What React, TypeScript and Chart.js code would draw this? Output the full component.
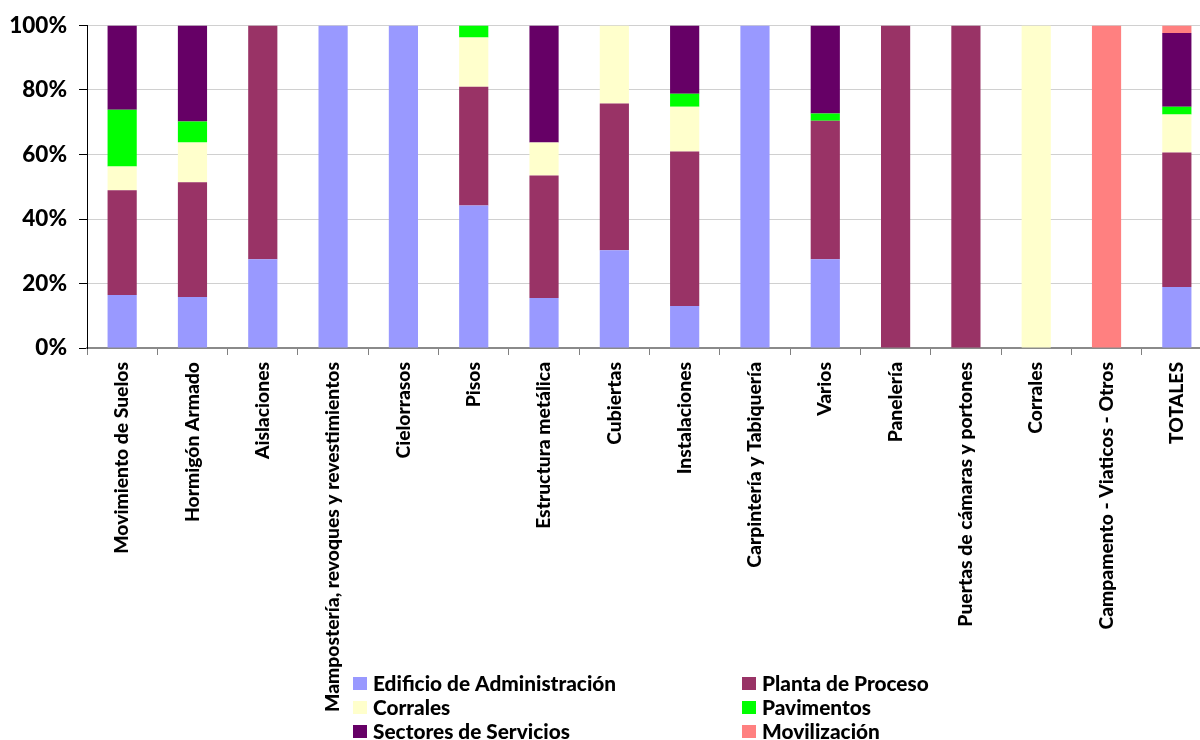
import React, { useEffect, useRef } from "react";
import { Chart, registerables } from "chart.js";

Chart.register(...registerables);

const categories = [
  "Movimiento de Suelos",
  "Hormigón Armado",
  "Aislaciones",
  "Mampostería, revoques y revestimientos",
  "Cielorrasos",
  "Pisos",
  "Estructura metálica",
  "Cubiertas",
  "Instalaciones",
  "Carpintería y Tabiquería",
  "Varios",
  "Panelería",
  "Puertas de cámaras y portones",
  "Corrales",
  "Campamento - Viaticos - Otros",
  "TOTALES",
];

// Share of each work item (%) per sector
const edificioAdministracion = [16.4, 15.8, 27.5, 100, 100, 44.2, 15.5, 30.3, 13.0, 100, 27.5, 0, 0, 0, 0, 18.9];
const plantaProceso = [32.5, 35.6, 72.5, 0, 0, 36.8, 38.0, 45.5, 47.9, 0, 43.0, 100, 100, 0, 0, 41.7];
const corrales = [7.4, 12.3, 0, 0, 0, 15.3, 10.2, 24.2, 13.9, 0, 0, 0, 0, 100, 0, 11.8];
const pavimentos = [17.6, 6.5, 0, 0, 0, 3.7, 0, 0, 4.0, 0, 2.2, 0, 0, 0, 0, 2.4];
const sectoresServicios = [26.1, 29.8, 0, 0, 0, 0, 36.3, 0, 21.2, 0, 27.3, 0, 0, 0, 0, 22.9];
const movilizacion = [0, 0, 0, 0, 0, 0, 0, 0, 0, 0, 0, 0, 0, 0, 100, 2.3];

const seriesLabels = [
  "Edificio de Administración",
  "Planta de Proceso",
  "Corrales",
  "Pavimentos",
  "Sectores de Servicios",
  "Movilización",
];
const seriesColors = ["#9999FF", "#993366", "#FFFFCC", "#00FF00", "#660066", "#FF8080"];
const yTicks = [0, 20, 40, 60, 80, 100];

const FONT = "Lato, 'DejaVu Sans', sans-serif";
const WEIGHT = 900;

// Two-column legend drawn below the plot, over the free part of the axis band
const gridLegend = {
  id: "gridLegend",
  afterDraw(chart: any) {
    const ctx = chart.ctx;
    const colX = [353, 742];
    const rowY = [683.5, 707.5, 731.5];
    ctx.save();
    ctx.font = `${WEIGHT} 20.8px ${FONT}`;
    ctx.textBaseline = "middle";
    ctx.textAlign = "left";
    chart.data.datasets.forEach((ds: any, i: number) => {
      const x = colX[i % 2];
      const y = rowY[Math.floor(i / 2)];
      ctx.fillStyle = ds.backgroundColor;
      ctx.fillRect(x, y - 6.5, 14, 13);
      ctx.fillStyle = "#000";
      ctx.fillText(ds.label, x + 20, y + 1);
    });
    ctx.restore();
  },
};

export default function App() {
  const ref = useRef<HTMLCanvasElement | null>(null);

  useEffect(() => {
    if (!ref.current) return;
    const series = [
      edificioAdministracion,
      plantaProceso,
      corrales,
      pavimentos,
      sectoresServicios,
      movilizacion,
    ];
    const chart = new Chart(ref.current, {
      type: "bar",
      data: {
        labels: categories,
        datasets: series.map((data, i) => ({
          label: seriesLabels[i],
          data,
          backgroundColor: seriesColors[i],
          borderWidth: 0,
          barPercentage: 0.415,
          categoryPercentage: 1,
        })),
      },
      options: {
        responsive: false,
        animation: false,
        layout: { padding: { top: 24, right: 0, left: 0, bottom: 0 } },
        plugins: {
          legend: { display: false },
          tooltip: { enabled: false },
        },
        scales: {
          x: {
            stacked: true,
            grid: {
              offset: true,
              drawOnChartArea: false,
              drawTicks: true,
              tickLength: 7,
              tickColor: "#808080",
            },
            border: { color: "#8a8a8a", width: 2 },
            ticks: {
              autoSkip: false,
              minRotation: 90,
              maxRotation: 90,
              padding: 7,
              color: "#000",
              font: { family: FONT, size: 19.3, weight: WEIGHT },
            },
            afterFit(scale: any) {
              scale.height = 392;
            },
          },
          y: {
            stacked: true,
            min: 0,
            max: 100,
            afterBuildTicks(scale: any) {
              scale.ticks = yTicks.map((v) => ({ value: v }));
            },
            grid: {
              color: "#d0d0d0",
              tickColor: "#000",
              tickLength: 8,
            },
            border: { color: "#000", width: 1 },
            ticks: {
              padding: 12,
              color: "#000",
              font: { family: FONT, size: 22.5, weight: WEIGHT },
              callback: (v: any) => `${v}%`,
            },
            afterFit(scale: any) {
              scale.width = 87;
            },
          },
        },
      },
      plugins: [gridLegend],
    });
    return () => chart.destroy();
  }, []);

  return (
    <div
      style={{
        position: "fixed",
        left: 0,
        top: 0,
        width: 1200,
        height: 740,
        overflow: "hidden",
        background: "#fff",
      }}
    >
      <canvas ref={ref} width={1212} height={740} style={{ display: "block" }} />
    </div>
  );
}
